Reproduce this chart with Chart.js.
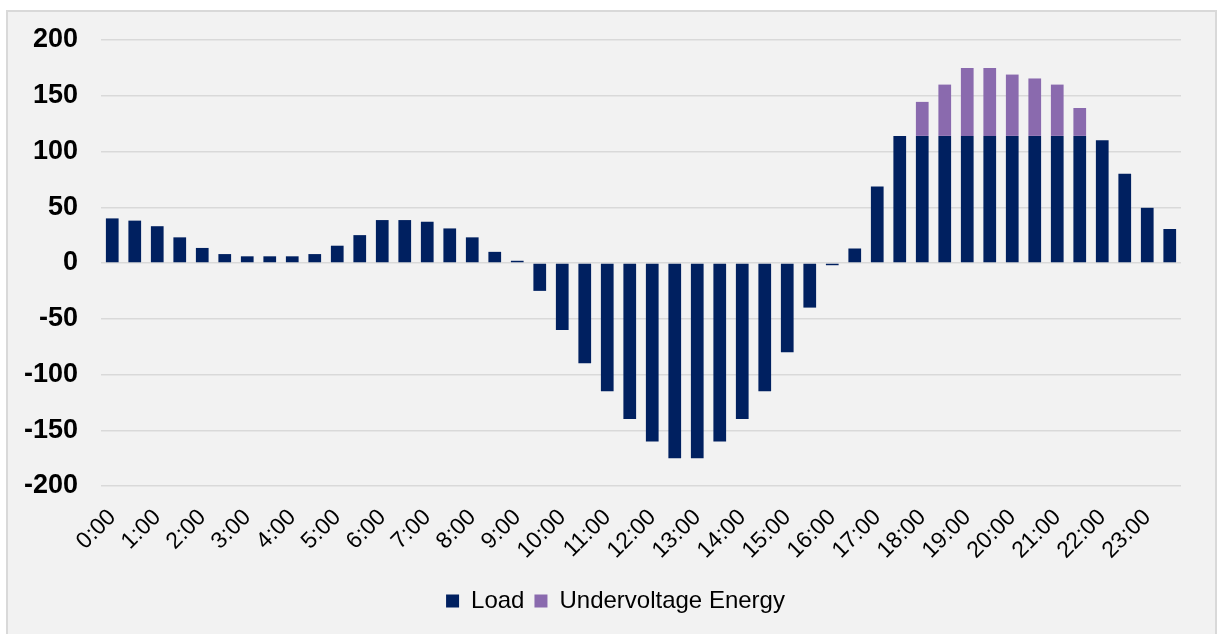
<!DOCTYPE html>
<html>
<head>
<meta charset="utf-8">
<script src="https://cdn.jsdelivr.net/npm/chart.js@4"></script>
<style>
  html, body { margin: 0; padding: 0; background: #ffffff; }
  #frame {
    position: absolute; left: 6px; top: 10px; width: 1207px; height: 640px;
    border: 2px solid #d9d9d9; background: #f2f2f2;
  }
  #wrap { position: absolute; left: 0; top: 0; width: 1219px; height: 634px; }
</style>
</head>
<body>
<div id="frame"></div>
<div id="wrap"><canvas id="chart" width="1219" height="634"></canvas></div>
<script>
// Hour tick labels (one every second bar, bars are half-hourly)
const hourLabels = ['0:00', '1:00', '2:00', '3:00', '4:00', '5:00', '6:00', '7:00',
    '8:00', '9:00', '10:00', '11:00', '12:00', '13:00', '14:00', '15:00',
    '16:00', '17:00', '18:00', '19:00', '20:00', '21:00', '22:00', '23:00'];

// Load per half hour, 0:00 .. 23:30
const loadValues = [40, 38, 33, 23, 13.5, 8, 6, 6, 6, 8,
    15.5, 25, 38.5, 38.5, 37, 31, 23, 10, 2, -25,
    -60, -90, -115, -140, -160, -175, -175, -160, -140, -115,
    -80, -40, -2, 13, 68.5, 114, 114, 114, 114, 114,
    114, 114, 114, 114, 110, 80, 49.5, 30.5];

// Undervoltage energy stacked on top of the load
const undervoltageValues = [0, 0, 0, 0, 0, 0, 0, 0, 0, 0,
    0, 0, 0, 0, 0, 0, 0, 0, 0, 0,
    0, 0, 0, 0, 0, 0, 0, 0, 0, 0,
    0, 0, 0, 0, 0, 0, 30.5, 46, 61, 61,
    55, 51.5, 46, 25, 0, 0, 0, 0];

const yTicks = [200, 150, 100, 50, 0, -50, -100, -150, -200];

// half-hour categories: "0:00", "0:30", ...
const categories = hourLabels.flatMap(h => [h, h.replace(':00', ':30')]);

const fontFamily = '"Liberation Sans", Arial, sans-serif';

// legend sits a little right of the canvas centre in the original
const legendShift = {
    id: 'legendShift',
    afterLayout(chart) {
        chart.legend.left += 25;
        chart.legend.right += 25;
    }
};

new Chart(document.getElementById('chart'), {
    type: 'bar',
    data: {
        labels: categories,
        datasets: [
            {
                label: 'Load',
                data: loadValues,
                backgroundColor: '#002060',
                categoryPercentage: 1,
                barPercentage: 0.565
            },
            {
                label: 'Undervoltage Energy',
                data: undervoltageValues,
                backgroundColor: '#8a6aae',
                categoryPercentage: 1,
                barPercentage: 0.565
            }
        ]
    },
    plugins: [legendShift],
    options: {
        responsive: false,
        animation: false,
        layout: { padding: { left: 0, right: 38, top: 40, bottom: 11 } },
        plugins: {
            tooltip: { enabled: false },
            legend: {
                position: 'bottom',
                labels: {
                    boxWidth: 13,
                    boxHeight: 13,
                    padding: 10,
                    color: '#000',
                    font: { family: fontFamily, size: 24 }
                }
            }
        },
        scales: {
            x: {
                stacked: true,
                grid: { display: false, drawTicks: false },
                border: { display: false },
                afterFit: (scale) => { scale.height = 93; },
                ticks: {
                    autoSkip: false,
                    minRotation: 45,
                    maxRotation: 45,
                    padding: 18,
                    color: '#000',
                    font: { family: fontFamily, size: 23 },
                    callback: function (value, index) {
                        return index % 2 === 0 ? hourLabels[index / 2] : null;
                    }
                }
            },
            y: {
                stacked: true,
                min: -200,
                max: 200,
                afterFit: (scale) => { scale.width = 101; },
                afterBuildTicks: (scale) => {
                    scale.ticks = yTicks.map(v => ({ value: v }));
                },
                grid: { color: '#d9d9d9', lineWidth: 1.5, drawTicks: false },
                border: { display: false },
                ticks: {
                    padding: 23,
                    color: '#000',
                    font: { family: fontFamily, size: 27, weight: 'bold' }
                }
            }
        }
    }
});
</script>
</body>
</html>
